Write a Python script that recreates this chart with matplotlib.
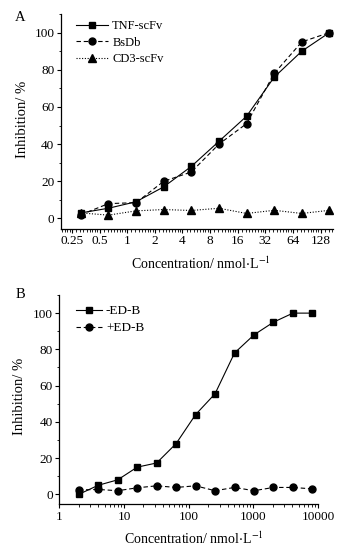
import numpy as np
import matplotlib
matplotlib.use("Agg")
import matplotlib.pyplot as plt
from matplotlib.ticker import FixedLocator, FixedFormatter, LogLocator, NullFormatter

plt.rcParams['font.family'] = ['Liberation Serif', 'DejaVu Serif']
plt.rcParams['mathtext.fontset'] = 'stix'

# ---- Panel A data ----
conc_a = [0.3125, 0.625, 1.25, 2.5, 5, 10, 20, 40, 80, 160]
tnf_scfv = [3, 5.5, 9, 17, 28, 41.5, 55, 76, 90, 100]
bsdb = [2, 8, 8.5, 20, 25, 40, 51, 78, 95, 100]
cd3_scfv = [3, 1.8, 4.1, 4.8, 4.3, 5.5, 2.7, 4.4, 2.7, 4.4]
ticks_a = [0.25, 0.5, 1, 2, 4, 8, 16, 32, 64, 128]
ticklabels_a = ['0.25', '0.5', '1', '2', '4', '8', '16', '32', '64', '128']

# ---- Panel B data ----
conc_b = [2, 4, 8, 16, 32, 64, 128, 256, 512, 1024, 2048, 4096, 8192]
minus_edb = [0, 5, 8, 15, 17.3, 28, 44, 55.5, 78, 88, 95, 100, 100]
plus_edb = [2.4, 2.7, 2, 3.6, 4.7, 3.8, 4.7, 2, 3.8, 2, 3.8, 3.8, 3]
ticks_b = [1, 10, 100, 1000, 10000]
ticklabels_b = ['1', '10', '100', '1000', '10000']

W, H = 346, 555
fig = plt.figure(figsize=(W / 100, H / 100), dpi=100)

def px_axes(l, t, r, b):
    return fig.add_axes([l / W, 1 - b / H, (r - l) / W, (b - t) / H])

axA = px_axes(61, 14, 333, 228.7)
axB = px_axes(59.3, 295, 318, 504.3)

lw = 0.8
for ax in (axA, axB):
    for s in ('top', 'right'):
        ax.spines[s].set_visible(False)
    for s in ('left', 'bottom'):
        ax.spines[s].set_linewidth(0.9)
    ax.tick_params(which='major', direction='out', length=3.2, width=0.8, labelsize=9.5, pad=1.5)
    ax.tick_params(which='minor', direction='out', length=1.8, width=0.6)
    ax.set_ylim(-5.5, 110)
    ax.yaxis.set_major_locator(FixedLocator([0, 20, 40, 60, 80, 100]))
    ax.yaxis.set_minor_locator(FixedLocator([10, 30, 50, 70, 90, 110]))
    ax.set_ylabel('Inhibition/ %', fontsize=10.5)
    ax.set_xlabel('Concentration/ nmol$\\cdot$L$^{-1}$', fontsize=10)

# Panel A
axA.set_xscale('log', base=2)
axA.plot(conc_a, tnf_scfv, color='black', lw=lw, ls='-', marker='s', ms=5, label='TNF-scFv')
axA.plot(conc_a, bsdb, color='black', lw=lw, ls=(0, (4, 2.5)), marker='o', ms=5, label='BsDb')
axA.plot(conc_a, cd3_scfv, color='black', lw=lw, ls=(0, (1, 1.5)), marker='^', ms=5.5, label='CD3-scFv')
axA.set_xlim(0.19, 175)
axA.xaxis.set_major_locator(FixedLocator(ticks_a))
axA.xaxis.set_major_formatter(FixedFormatter(ticklabels_a))
axA.xaxis.set_minor_locator(LogLocator(base=2, subs=list(np.linspace(1, 2, 10)[1:-1]), numticks=50))
axA.xaxis.set_minor_formatter(NullFormatter())
axA.yaxis.set_label_coords(-0.118, 0.51)
axA.xaxis.set_label_coords(0.515, -0.125)
axA.legend(loc='upper left', bbox_to_anchor=(0.055, 0.97), frameon=False, fontsize=9,
           handlelength=2.6, handletextpad=0.3, labelspacing=0.35, borderpad=0, borderaxespad=0)
fig.text(15 / W, 1 - 21 / H, 'A', fontsize=10.5)

# Panel B
axB.set_xscale('log')
axB.plot(conc_b, minus_edb, color='black', lw=lw, ls='-', marker='s', ms=5, label='-ED-B')
axB.plot(conc_b, plus_edb, color='black', lw=lw, ls=(0, (4, 2.5)), marker='o', ms=5, label='+ED-B')
axB.set_xlim(1, 10000)
axB.xaxis.set_major_locator(FixedLocator(ticks_b))
axB.xaxis.set_major_formatter(FixedFormatter(ticklabels_b))
axB.xaxis.set_minor_locator(LogLocator(base=10, subs=np.arange(2, 10), numticks=50))
axB.xaxis.set_minor_formatter(NullFormatter())
axB.yaxis.set_label_coords(-0.129, 0.515)
axB.xaxis.set_label_coords(0.52, -0.125)
axB.legend(loc='upper left', bbox_to_anchor=(0.063, 0.952), frameon=False, fontsize=9.5,
           handlelength=2.0, handletextpad=0.3, labelspacing=0.35, borderpad=0, borderaxespad=0)
fig.text(16 / W, 1 - 298 / H, 'B', fontsize=10.5)

fig.savefig('out.png', dpi=100)
